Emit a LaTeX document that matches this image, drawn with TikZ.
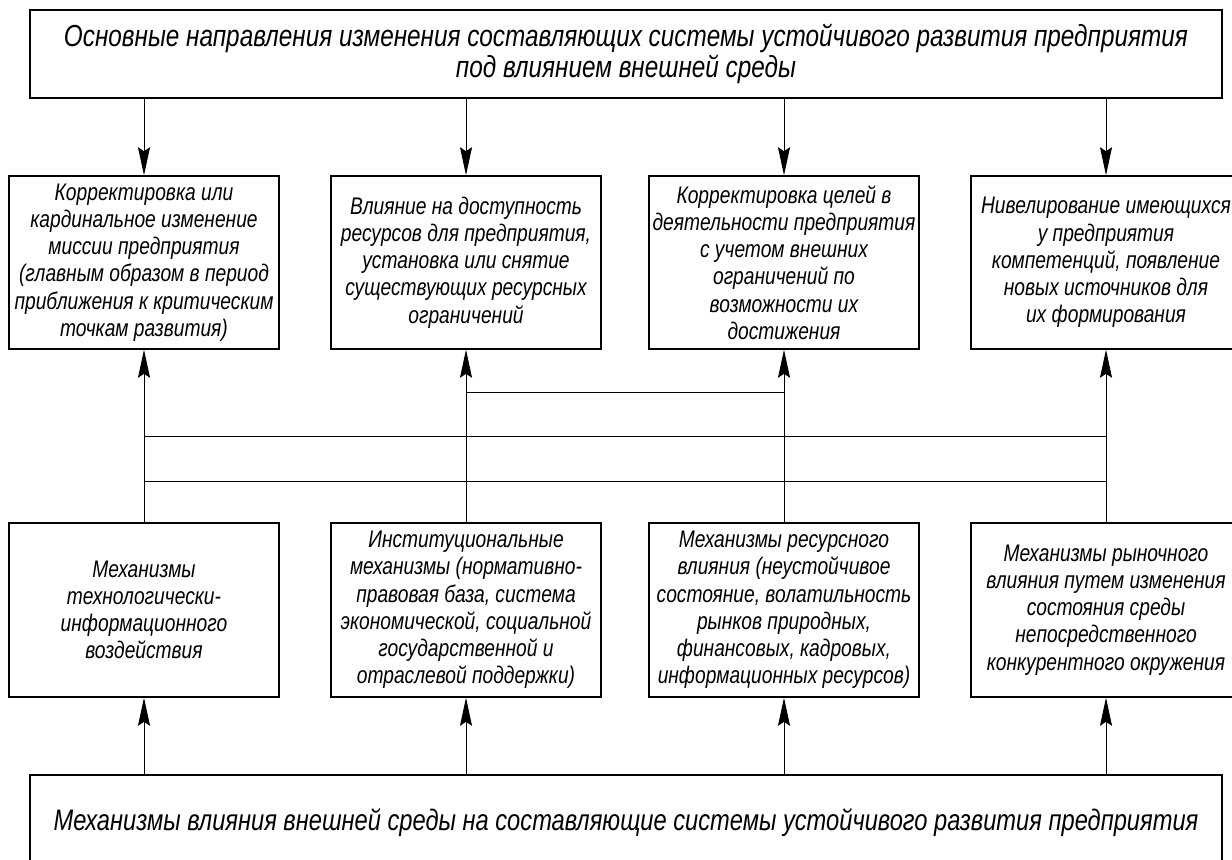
\documentclass[tikz,border=0pt]{standalone}
\usepackage{fontspec}
\setmainfont{Liberation Sans}[FakeStretch=0.8]
\usetikzlibrary{arrows.meta}
\begin{document}
\begin{tikzpicture}[x=0.5pt,y=-0.5pt,
  box/.style={draw,line width=0.75pt,inner sep=0pt,align=center,
    font=\fontsize{12}{13.6}\selectfont\itshape},
  bigbox/.style={draw,line width=0.75pt,inner sep=0pt,align=center,
    font=\fontsize{15.2}{15.4}\selectfont\itshape},
  conn/.style={line width=0.5pt},
  arr/.style={line width=0.5pt,-{Stealth[length=14pt,width=6pt,inset=2pt]}}]
\useasboundingbox (0,0) rectangle (1232,860);
% top and bottom boxes
\node[bigbox,minimum width=596pt,minimum height=44pt] (top) at (626,54)
  {Основные направления изменения составляющих системы устойчивого развития предприятия\\под влиянием внешней среды};
\node[bigbox,font=\fontsize{14.8}{15}\selectfont\itshape,minimum width=596pt,minimum height=50pt,text depth=0pt] (bot) at (626,825)
  {\raisebox{5pt}{Механизмы влияния внешней среды на составляющие системы устойчивого развития предприятия}};
% row 1
\node[box,minimum width=135pt,minimum height=86.5pt] (a1) at (144,262.5)
  {Корректировка или\\кардинальное изменение\\миссии предприятия\\(главным образом в период\\приближения к критическим\\точкам развития)};
\node[box,minimum width=135pt,minimum height=86.5pt] (a2) at (466,262.5)
  {Влияние на доступность\\ресурсов для предприятия,\\установка или снятие\\существующих ресурсных\\ограничений};
\node[box,minimum width=135pt,minimum height=86.5pt] (a3) at (784,262.5)
  {Корректировка целей в\\деятельности предприятия\\с учетом внешних\\ограничений по\\возможности их\\достижения};
\node[box,minimum width=135pt,minimum height=86.5pt] (a4) at (1106,262.5)
  {Нивелирование имеющихся\\у предприятия\\компетенций, появление\\новых источников для\\их формирования};
% row 2
\node[box,minimum width=135pt,minimum height=87pt] (b1) at (144,610)
  {Механизмы\\технологически-\\информационного\\воздействия};
\node[box,minimum width=135pt,minimum height=87pt] (b2) at (466,610)
  {Институциональные\\механизмы (нормативно-\\правовая база, система\\экономической, социальной\\государственной и\\отраслевой поддержки)};
\node[box,minimum width=135pt,minimum height=87pt] (b3) at (784,610)
  {Механизмы ресурсного\\влияния (неустойчивое\\состояние, волатильность\\рынков природных,\\финансовых, кадровых,\\информационных ресурсов)};
\node[box,minimum width=135pt,minimum height=87pt] (b4) at (1106,610)
  {Механизмы рыночного\\влияния путем изменения\\состояния среды\\непосредственного\\конкурентного окружения};
% arrows
\foreach \i in {1,2,3,4} {
  \draw[arr] (top.south -| a\i.north) -- (a\i.north);
  \draw[arr] (b\i.north) -- (a\i.south);
  \draw[arr] (bot.north -| b\i.south) -- (b\i.south);
}
% horizontal links
\coordinate (h1l) at (466,393); \coordinate (h1r) at (784,393);
\coordinate (h2l) at (144,437); \coordinate (h2r) at (1106,437);
\coordinate (h3l) at (144,482); \coordinate (h3r) at (1106,482);
\draw[conn] (h1l) -- (h1r);
\draw[conn] (h2l) -- (h2r);
\draw[conn] (h3l) -- (h3r);
\end{tikzpicture}
\end{document}
